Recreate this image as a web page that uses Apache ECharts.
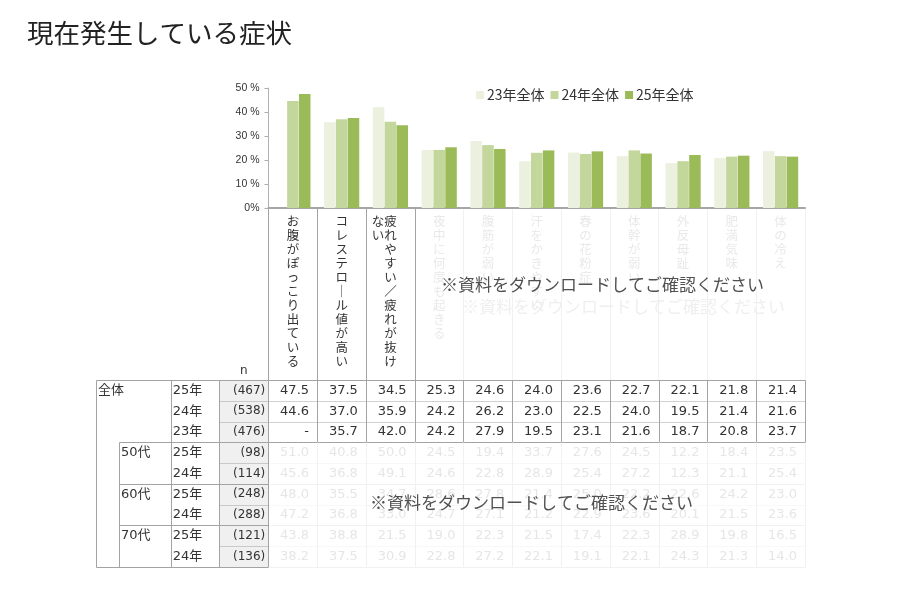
<!DOCTYPE html>
<html><head><meta charset="utf-8">
<script src="https://cdn.jsdelivr.net/npm/echarts@6/dist/echarts.min.js"></script>
<style>html,body{margin:0;padding:0;background:#fff}#c{width:900px;height:600px}</style>
</head><body><div id="c"></div>
<script>
// ---------- DATA ----------
const titleText = '現在発生している症状';
const noticeText = '※資料をダウンロードしてご確認ください';
const categories = ['お腹がぽっこり出ている','コレステロール値が高い','疲れやすい／疲れが抜けない','夜中に何度も起きる','腹筋が弱い','汗をかきやすい','春の花粉症','体幹が弱い','外反母趾','肥満気味','体の冷え'];
const seriesNames = ['23年全体','24年全体','25年全体'];
const all23 = [null,35.7,42.0,24.2,27.9,19.5,23.1,21.6,18.7,20.8,23.7];
const all24 = [44.6,37.0,35.9,24.2,26.2,23.0,22.5,24.0,19.5,21.4,21.6];
const all25 = [47.5,37.5,34.5,25.3,24.6,24.0,23.6,22.7,22.1,21.8,21.4];
const age50y25 = [51.0,40.8,50.0,24.5,19.4,33.7,27.6,24.5,12.2,18.4,23.5];
const age50y24 = [45.6,36.8,49.1,24.6,22.8,28.9,25.4,27.2,12.3,21.1,25.4];
const age60y25 = [48.0,35.5,34.7,28.6,27.8,21.4,25.0,22.2,22.6,24.2,23.0];
const age60y24 = [47.2,36.8,33.0,24.7,27.1,21.2,22.9,23.6,20.1,21.5,23.6];
const age70y25 = [43.8,38.8,21.5,19.0,22.3,21.5,17.4,22.3,28.9,19.8,16.5];
const age70y24 = [38.2,37.5,30.9,22.8,27.2,22.1,19.1,22.1,24.3,21.3,14.0];
const rowGroups = ['全体','全体','全体','50代','50代','60代','60代','70代','70代'];
const rowYears = ['25年','24年','23年','25年','24年','25年','24年','25年','24年'];
const rowN = [467,538,476,98,114,248,288,121,136];
const nHeader = 'n';
const yMax = 50, yStep = 10;

// ---------- LAYOUT / STYLE ----------
const tableRows = [all25, all24, all23, age50y25, age50y24, age60y25, age60y24, age70y25, age70y24];
const visibleRows = 3, visibleCols = 3;
const FONT_JP = '"Noto Sans CJK JP","Noto Sans",sans-serif';
const FONT_NUM = '"DejaVu Sans","Noto Sans CJK JP",sans-serif';
const X_MIN = -3.53, SUB_X = -3.06;
const DARK = '#a3a3a3', FAINT = '#f1f1f1', FAINT_TXT = '#e6e6e6';
const nRows = rowGroups.length, nCols = categories.length;

function verticalLabel(s) {
  const chars = Array.from(s.replace(/ー/g, '｜'));
  const per = 11, cols = [];
  for (let i = 0; i < chars.length; i += per) cols.push(chars.slice(i, i + per));
  const lines = [];
  for (let i = 0; i < Math.min(per, chars.length); i++) {
    let line = '';
    for (let c = cols.length - 1; c >= 0; c--) line += cols[c][i] || '　';
    line += '　'.repeat(cols.length - 1);
    lines.push(line);
  }
  return lines.join('\n');
}

// table text items
const textItems = [];
textItems.push({ value: [-0.5, -0.45], kind: 'head', text: nHeader });
rowGroups.forEach((g, r) => {
  const first = r === 0 || rowGroups[r - 1] !== g;
  if (first) textItems.push({ value: [r === 0 ? X_MIN : SUB_X, r + 0.5], kind: 'group', text: g });
  textItems.push({ value: [-2, r + 0.5], kind: 'year', text: rowYears[r] });
  textItems.push({ value: [0, r + 0.5], kind: 'n', text: '(' + rowN[r] + ')' });
  tableRows[r].forEach((v, c) => {
    textItems.push({ value: [c + 1, r + 0.5], kind: 'num', text: v == null ? '-' : v.toFixed(1), faint: r >= visibleRows });
  });
});
const txtCfg = {
  head: { dx: 0, align: 'center', font: FONT_NUM, size: 12 },
  group: { dx: 2, align: 'left', font: FONT_NUM, size: 13 },
  year: { dx: 2, align: 'left', font: FONT_NUM, size: 13 },
  n: { dx: -3, align: 'right', font: FONT_NUM, size: 12 },
  num: { dx: -8, align: 'right', font: FONT_NUM, size: 13 }
};

// table lines
const lineItems = [];
function addLine(x1, y1, x2, y2, color, dash) { lineItems.push({ value: [x1, y1], p: [x1, y1, x2, y2], color, dash }); }
for (let r = 0; r <= nRows; r++) {
  const boundary = r === 0 || r === nRows || rowGroups[r] !== rowGroups[r - 1];
  const dataColor = r <= visibleRows ? DARK : FAINT;
  if (boundary) {
    addLine((r === 0 || r === nRows) ? X_MIN : SUB_X, r, 0, r, DARK, null);
    addLine(0, r, nCols, r, dataColor, null);
  } else {
    addLine(-1, r, 0, r, DARK, [1, 1]);
    addLine(0, r, nCols, r, r < visibleRows ? DARK : FAINT, [1, 1]);
  }
}
addLine(X_MIN, 0, X_MIN, nRows, DARK, null);
addLine(SUB_X, visibleRows, SUB_X, nRows, DARK, null);
addLine(-2, 0, -2, nRows, DARK, null);
addLine(-1, 0, -1, nRows, DARK, null);
addLine(0, 0, 0, nRows, DARK, null);
for (let c = 1; c <= nCols; c++) {
  addLine(c, 0, c, visibleRows, DARK, null);
  addLine(c, visibleRows, c, nRows, FAINT, null);
}

const splitColors = [];
for (let i = 0; i <= nCols; i++) splitColors.push(i <= visibleCols ? DARK : FAINT);

const chart = echarts.init(document.getElementById('c'), null, { renderer: 'canvas' });
chart.setOption({
  animation: false,
  backgroundColor: '#fff',
  title: { text: titleText, left: 22, top: 15, textStyle: { fontSize: 26.5, fontWeight: 'normal', color: '#222', fontFamily: FONT_JP } },
  legend: {
    data: seriesNames, left: 471, top: 83, itemWidth: 8, itemHeight: 8, itemGap: 6, icon: 'rect',
    textStyle: { fontSize: 14, color: '#333', fontFamily: FONT_JP, padding: [0, 0, 0, -2] }
  },
  grid: [
    { left: 268.5, right: 95, top: 88, height: 120 },
    { left: 268.5, right: 95, top: 208, height: 172 },
    { left: 96, right: 95, top: 380, bottom: 33 }
  ],
  xAxis: [
    { gridIndex: 0, type: 'category', data: categories, axisLabel: { show: false }, axisTick: { show: false },
      axisLine: { lineStyle: { color: '#a6a6a6', width: 2 } } },
    { gridIndex: 1, type: 'category', data: categories, position: 'top',
      axisLine: { show: false }, axisTick: { show: false },
      axisLabel: { inside: true, interval: 0, margin: 6, formatter: verticalLabel,
        color: (v, i) => i < visibleCols ? '#333' : '#e9e9e9',
        fontSize: 12.5, lineHeight: 14, fontFamily: FONT_JP, verticalAlign: 'top' },
      splitLine: { show: true, interval: 0, lineStyle: { color: splitColors, width: 1 } } },
    { gridIndex: 2, type: 'value', min: X_MIN, max: nCols, show: false }
  ],
  yAxis: [
    { gridIndex: 0, type: 'value', min: 0, max: yMax, interval: yStep,
      axisLine: { show: true, lineStyle: { color: '#b0b0b0' } },
      axisTick: { show: true, length: 4, lineStyle: { color: '#b0b0b0' } },
      splitLine: { show: false },
      axisLabel: { formatter: v => v === 0 ? '0%' : v + ' %', fontSize: 10.5, color: '#333', fontFamily: '"Liberation Sans",Arial,sans-serif', margin: 9 } },
    { gridIndex: 1, type: 'value', show: false },
    { gridIndex: 2, type: 'value', min: 0, max: nRows, inverse: true, show: false }
  ],
  graphic: [
    { type: 'text', left: 441, top: 276, z: 50, style: { text: noticeText, fontSize: 17, fill: '#505050', fontFamily: FONT_JP } },
    { type: 'text', left: 462, top: 298, z: 40, style: { text: noticeText, fontSize: 17, fill: '#efefef', fontFamily: FONT_JP } },
    { type: 'text', left: 370, top: 494, z: 50, style: { text: noticeText, fontSize: 17, fill: '#505050', fontFamily: FONT_JP } }
  ],
  series: [
    { name: seriesNames[0], type: 'bar', xAxisIndex: 0, yAxisIndex: 0, data: all23, itemStyle: { color: '#ebf1de' }, barWidth: 11.5, barGap: '3%' },
    { name: seriesNames[1], type: 'bar', xAxisIndex: 0, yAxisIndex: 0, data: all24, itemStyle: { color: '#c3d69b' }, barWidth: 11.5, barGap: '3%' },
    { name: seriesNames[2], type: 'bar', xAxisIndex: 0, yAxisIndex: 0, data: all25, itemStyle: { color: '#9bbb59' }, barWidth: 11.5, barGap: '3%' },
    { type: 'custom', xAxisIndex: 2, yAxisIndex: 2, z: 1, clip: false, silent: true,
      data: [[-1, 0]],
      renderItem: (params, api) => {
        const a = api.coord([-1, 0]), b = api.coord([0, nRows]);
        return { type: 'rect', shape: { x: a[0], y: a[1], width: b[0] - a[0], height: b[1] - a[1] }, style: { fill: '#f0f0f0' } };
      } },
    { type: 'custom', xAxisIndex: 2, yAxisIndex: 2, z: 2, clip: false, silent: true,
      data: lineItems.map(l => l.value),
      renderItem: (params, api) => {
        const l = lineItems[params.dataIndex];
        const a = api.coord([l.p[0], l.p[1]]), b = api.coord([l.p[2], l.p[3]]);
        const r = v => Math.round(v) + 0.5;
        return { type: 'line', shape: { x1: r(a[0]), y1: r(a[1]), x2: r(b[0]), y2: r(b[1]) },
          style: { stroke: l.color, lineWidth: 1, lineDash: l.dash || null } };
      } },
    { type: 'custom', xAxisIndex: 2, yAxisIndex: 2, z: 3, clip: false, silent: true,
      data: textItems.map(t => t.value),
      renderItem: (params, api) => {
        const t = textItems[params.dataIndex];
        const cfg = txtCfg[t.kind];
        const p = api.coord([t.value[0], t.value[1]]);
        return { type: 'text', x: p[0] + cfg.dx, y: p[1],
          style: { text: t.text, fill: t.faint ? FAINT_TXT : '#333', fontSize: cfg.size, fontFamily: cfg.font, align: cfg.align, verticalAlign: 'middle' } };
      } }
  ]
});
</script></body></html>
